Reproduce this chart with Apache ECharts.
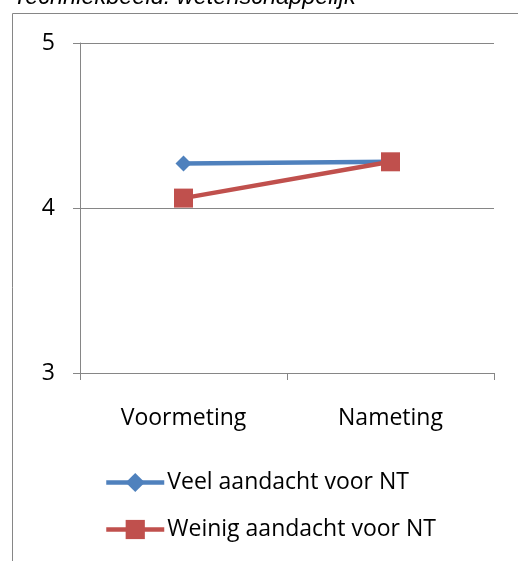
<!DOCTYPE html>
<html>
<head>
<meta charset="utf-8">
<script src="https://cdn.jsdelivr.net/npm/echarts@6/dist/echarts.min.js"></script>
<style>html,body{margin:0;padding:0;background:#fff;}#c{width:518px;height:561px;}</style>
</head>
<body>
<div id="c"></div>
<script>
const titleText = 'Techniekbeeld: wetenschappelijk';
const categories = ['Voormeting', 'Nameting'];
const seriesNames = ['Veel aandacht voor NT', 'Weinig aandacht voor NT'];
const veelValues = [4.27, 4.28];
const weinigValues = [4.06, 4.28];
const yMin = 3, yMax = 5, yInterval = 1;

const FONT = 'Open Sans';
const chart = echarts.init(document.getElementById('c'));
chart.setOption({
  animation: false,
  backgroundColor: '#fff',
  graphic: [
    { type: 'line', shape: { x1: 12.5, y1: 13.5, x2: 518, y2: 13.5 }, style: { stroke: '#868686', lineWidth: 1 } },
    { type: 'line', shape: { x1: 12.5, y1: 13.5, x2: 12.5, y2: 561 }, style: { stroke: '#868686', lineWidth: 1 } },
    { type: 'text', x: 13, y: 8.5, style: { text: titleText, fontFamily: 'Liberation Sans', fontStyle: 'italic', fontSize: 23.5, fill: '#000', verticalAlign: 'bottom' } }
  ],
  grid: { left: 80, right: 24, top: 43, bottom: 188 },
  xAxis: {
    type: 'category', data: categories, boundaryGap: true,
    axisLine: { lineStyle: { color: '#868686', width: 1 } },
    axisTick: { show: true, length: 7, lineStyle: { color: '#868686' } },
    axisLabel: { color: '#000', fontFamily: FONT, fontSize: 23, margin: 34 }
  },
  yAxis: {
    type: 'value', min: yMin, max: yMax, interval: yInterval,
    axisLine: { show: true, lineStyle: { color: '#868686', width: 1 } },
    axisTick: { show: true, length: 7, lineStyle: { color: '#868686' } },
    splitLine: { lineStyle: { color: '#868686', width: 1 } },
    axisLabel: { color: '#000', fontFamily: FONT, fontSize: 23, margin: 25 }
  },
  legend: {
    orient: 'vertical', left: 104, top: 471, height: 120, itemGap: 24, itemWidth: 58, itemHeight: 24, padding: 0,
    textStyle: { color: '#000', fontFamily: FONT, fontSize: 23, padding: [0, 0, 0, -2] },
    lineStyle: { width: 4.5 },
    data: seriesNames
  },
  series: [
    { name: seriesNames[0], type: 'line', data: veelValues, symbol: 'diamond', symbolSize: 16,
      itemStyle: { color: '#4F81BD' }, lineStyle: { color: '#4F81BD', width: 4.5 } },
    { name: seriesNames[1], type: 'line', data: weinigValues, symbol: 'rect', symbolSize: 19,
      itemStyle: { color: '#C0504D' }, lineStyle: { color: '#C0504D', width: 4.5 } }
  ]
});
</script>
</body>
</html>
